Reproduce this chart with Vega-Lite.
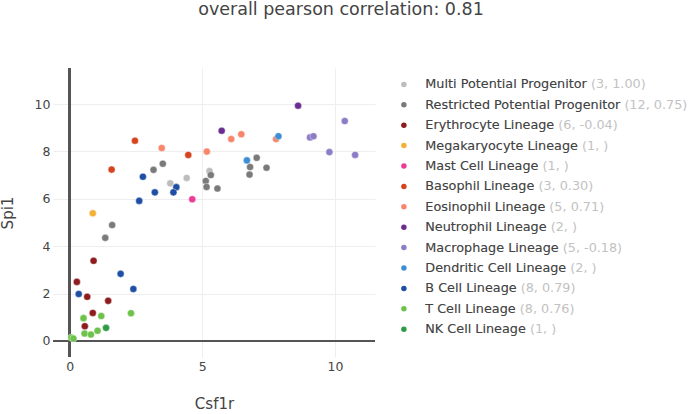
{
  "$schema": "https://vega.github.io/schema/vega-lite/v6.json",
  "autosize": {"type": "none"},
  "padding": {"left": 53, "top": 68, "right": 317, "bottom": 57},
  "width": 322,
  "height": 289,
  "background": "white",
  "title": {
    "text": "overall pearson correlation: 0.81",
    "frame": "group",
    "anchor": "middle",
    "dx": 127,
    "offset": 35,
    "baseline": "alphabetic",
    "font": "DejaVu Sans",
    "fontSize": 17.5,
    "fontWeight": "normal",
    "color": "#444444"
  },
  "data": {
    "values": [
      {"lineage": "Multi Potential Progenitor", "x": 3.79, "y": 6.65},
      {"lineage": "Multi Potential Progenitor", "x": 4.41, "y": 6.88},
      {"lineage": "Multi Potential Progenitor", "x": 5.27, "y": 7.17},
      {"lineage": "Restricted Potential Progenitor", "x": 3.51, "y": 7.48},
      {"lineage": "Restricted Potential Progenitor", "x": 3.16, "y": 7.22},
      {"lineage": "Restricted Potential Progenitor", "x": 5.32, "y": 7.0},
      {"lineage": "Restricted Potential Progenitor", "x": 5.13, "y": 6.75},
      {"lineage": "Restricted Potential Progenitor", "x": 5.16, "y": 6.5},
      {"lineage": "Restricted Potential Progenitor", "x": 5.57, "y": 6.43},
      {"lineage": "Restricted Potential Progenitor", "x": 7.05, "y": 7.73},
      {"lineage": "Restricted Potential Progenitor", "x": 6.8, "y": 7.34},
      {"lineage": "Restricted Potential Progenitor", "x": 7.42, "y": 7.31},
      {"lineage": "Restricted Potential Progenitor", "x": 6.78, "y": 7.02},
      {"lineage": "Restricted Potential Progenitor", "x": 1.6, "y": 4.89},
      {"lineage": "Restricted Potential Progenitor", "x": 1.34, "y": 4.35},
      {"lineage": "Erythrocyte Lineage", "x": 0.9, "y": 3.38},
      {"lineage": "Erythrocyte Lineage", "x": 0.27, "y": 2.49},
      {"lineage": "Erythrocyte Lineage", "x": 0.66, "y": 1.86},
      {"lineage": "Erythrocyte Lineage", "x": 1.45, "y": 1.69},
      {"lineage": "Erythrocyte Lineage", "x": 0.87, "y": 1.18},
      {"lineage": "Erythrocyte Lineage", "x": 0.57, "y": 0.62},
      {"lineage": "Megakaryocyte Lineage", "x": 0.87, "y": 5.39},
      {"lineage": "Mast Cell Lineage", "x": 4.62, "y": 5.98},
      {"lineage": "Basophil Lineage", "x": 2.46, "y": 8.45},
      {"lineage": "Basophil Lineage", "x": 4.47, "y": 7.85},
      {"lineage": "Basophil Lineage", "x": 1.58, "y": 7.23},
      {"lineage": "Eosinophil Lineage", "x": 3.47, "y": 8.14},
      {"lineage": "Eosinophil Lineage", "x": 5.17, "y": 7.99},
      {"lineage": "Eosinophil Lineage", "x": 6.09, "y": 8.52},
      {"lineage": "Eosinophil Lineage", "x": 6.47, "y": 8.72},
      {"lineage": "Eosinophil Lineage", "x": 7.78, "y": 8.52},
      {"lineage": "Neutrophil Lineage", "x": 5.73, "y": 8.87},
      {"lineage": "Neutrophil Lineage", "x": 8.61, "y": 9.93},
      {"lineage": "Macrophage Lineage", "x": 10.37, "y": 9.28},
      {"lineage": "Macrophage Lineage", "x": 9.06, "y": 8.59},
      {"lineage": "Macrophage Lineage", "x": 9.19, "y": 8.64},
      {"lineage": "Macrophage Lineage", "x": 9.79, "y": 7.97},
      {"lineage": "Macrophage Lineage", "x": 10.76, "y": 7.85},
      {"lineage": "Dendritic Cell Lineage", "x": 7.87, "y": 8.64},
      {"lineage": "Dendritic Cell Lineage", "x": 6.68, "y": 7.62},
      {"lineage": "B Cell Lineage", "x": 2.76, "y": 6.93},
      {"lineage": "B Cell Lineage", "x": 4.02, "y": 6.49},
      {"lineage": "B Cell Lineage", "x": 3.91, "y": 6.27},
      {"lineage": "B Cell Lineage", "x": 3.21, "y": 6.27},
      {"lineage": "B Cell Lineage", "x": 2.62, "y": 5.91},
      {"lineage": "B Cell Lineage", "x": 1.92, "y": 2.83},
      {"lineage": "B Cell Lineage", "x": 2.4, "y": 2.19},
      {"lineage": "B Cell Lineage", "x": 0.34, "y": 1.98},
      {"lineage": "T Cell Lineage", "x": 0.52, "y": 0.96},
      {"lineage": "T Cell Lineage", "x": 1.19, "y": 1.05},
      {"lineage": "T Cell Lineage", "x": 2.31, "y": 1.17},
      {"lineage": "T Cell Lineage", "x": 0.56, "y": 0.31},
      {"lineage": "T Cell Lineage", "x": 0.8, "y": 0.27},
      {"lineage": "T Cell Lineage", "x": 1.05, "y": 0.43},
      {"lineage": "T Cell Lineage", "x": 0.06, "y": 0.14},
      {"lineage": "T Cell Lineage", "x": 0.14, "y": 0.1},
      {"lineage": "NK Cell Lineage", "x": 1.37, "y": 0.55}
    ]
  },
  "layer": [
    {
      "mark": {"type": "rule", "color": "#555555", "strokeWidth": 1.6},
      "encoding": {"x": {"datum": 0, "type": "quantitative"}}
    },
    {
      "mark": {"type": "rule", "color": "#555555", "strokeWidth": 1.6},
      "encoding": {"y": {"datum": 0, "type": "quantitative"}}
    },
    {
      "mark": {"type": "point", "filled": true, "opacity": 1, "size": 50, "stroke": "white", "strokeWidth": 0.4},
      "encoding": {
        "x": {
          "field": "x", "type": "quantitative",
          "scale": {"domain": [-0.63, 11.51], "nice": false, "zero": false},
          "axis": {"title": "Csf1r", "values": [0, 5, 10], "labelPadding": 3, "titlePadding": 24}
        },
        "y": {
          "field": "y", "type": "quantitative",
          "scale": {"domain": [-0.68, 11.52], "nice": false, "zero": false},
          "axis": {"title": "Spi1", "values": [0, 2, 4, 6, 8, 10], "labelPadding": 3, "titlePadding": 19}
        },
        "color": {
          "field": "lineage", "type": "nominal",
          "scale": {
            "domain": ["Multi Potential Progenitor", "Restricted Potential Progenitor", "Erythrocyte Lineage", "Megakaryocyte Lineage", "Mast Cell Lineage", "Basophil Lineage", "Eosinophil Lineage", "Neutrophil Lineage", "Macrophage Lineage", "Dendritic Cell Lineage", "B Cell Lineage", "T Cell Lineage", "NK Cell Lineage"],
            "range": ["#bdbdbd", "#7a7a7a", "#8e1b1e", "#f2b134", "#ec3a96", "#d5441c", "#f7866a", "#6b2d8f", "#8d7cc6", "#3d8ed6", "#1f4fa5", "#6cc24a", "#2f9a47"]
          },
          "legend": {
            "orient": "none", "legendX": 344.5, "legendY": 10, "padding": 0,
            "title": null, "symbolType": "circle", "symbolSize": 30, "symbolStrokeWidth": 0,
            "labelOffset": 15, "rowPadding": 6.4, "labelLimit": 400,
            "labelFont": "DejaVu Sans", "labelFontSize": 12.8, "labelColor": "#c2c2c2",
            "labelExpr": "datum.label + ({'Multi Potential Progenitor': ' (3, 1.00)', 'Restricted Potential Progenitor': ' (12, 0.75)', 'Erythrocyte Lineage': ' (6, -0.04)', 'Megakaryocyte Lineage': ' (1, )', 'Mast Cell Lineage': ' (1, )', 'Basophil Lineage': ' (3, 0.30)', 'Eosinophil Lineage': ' (5, 0.71)', 'Neutrophil Lineage': ' (2, )', 'Macrophage Lineage': ' (5, -0.18)', 'Dendritic Cell Lineage': ' (2, )', 'B Cell Lineage': ' (8, 0.79)', 'T Cell Lineage': ' (8, 0.76)', 'NK Cell Lineage': ' (1, )'})[datum.label]"
          }
        },
        "shape": {
          "field": "lineage", "type": "nominal",
          "sort": ["Multi Potential Progenitor", "Restricted Potential Progenitor", "Erythrocyte Lineage", "Megakaryocyte Lineage", "Mast Cell Lineage", "Basophil Lineage", "Eosinophil Lineage", "Neutrophil Lineage", "Macrophage Lineage", "Dendritic Cell Lineage", "B Cell Lineage", "T Cell Lineage", "NK Cell Lineage"],
          "scale": {"range": ["circle"]},
          "legend": {
            "orient": "none", "legendX": 344.5, "legendY": 10, "padding": 0,
            "title": null, "symbolSize": 30, "symbolOpacity": 0, "symbolStrokeWidth": 0,
            "labelOffset": 15, "rowPadding": 6.4, "labelLimit": 400,
            "labelFont": "DejaVu Sans", "labelFontSize": 12.8, "labelColor": "#444444"
          }
        }
      }
    }
  ],
  "config": {
    "view": {"stroke": null},
    "axis": {
      "domain": false, "ticks": false, "grid": true, "gridColor": "#eeeeee", "gridWidth": 1,
      "labelFont": "DejaVu Sans", "labelFontSize": 12.5, "labelColor": "#444444",
      "titleFont": "DejaVu Sans", "titleFontSize": 15, "titleFontWeight": "normal", "titleColor": "#444444"
    }
  }
}
